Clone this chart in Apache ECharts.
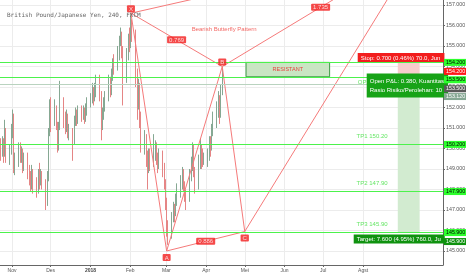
<!DOCTYPE html>
<html>
<head>
<meta charset="utf-8">
<script src="https://cdn.jsdelivr.net/npm/echarts@6/dist/echarts.min.js"></script>
<style>
html, body { margin: 0; padding: 0; background: #fff; }
#main { width: 466px; height: 275px; }
</style>
</head>
<body>
<div id="main"></div>
<script>
var barDates = [
  '2017-10-23','2017-10-24','2017-10-25','2017-10-26','2017-10-27',
  '2017-10-30','2017-10-31','2017-11-01','2017-11-02','2017-11-03',
  '2017-11-06','2017-11-07','2017-11-08','2017-11-09','2017-11-10',
  '2017-11-13','2017-11-14','2017-11-15','2017-11-16','2017-11-17',
  '2017-11-20','2017-11-21','2017-11-22','2017-11-23','2017-11-24',
  '2017-11-27','2017-11-28','2017-11-29','2017-11-30','2017-12-01',
  '2017-12-04','2017-12-05','2017-12-06','2017-12-07','2017-12-08',
  '2017-12-11','2017-12-12','2017-12-13','2017-12-14','2017-12-15',
  '2017-12-18','2017-12-19','2017-12-20','2017-12-21','2017-12-22',
  '2017-12-25','2017-12-26','2017-12-27','2017-12-28','2017-12-29',
  '2018-01-01','2018-01-02','2018-01-03','2018-01-04','2018-01-05',
  '2018-01-08','2018-01-09','2018-01-10','2018-01-11','2018-01-12',
  '2018-01-15','2018-01-16','2018-01-17','2018-01-18','2018-01-19',
  '2018-01-22','2018-01-23','2018-01-24','2018-01-25','2018-01-26',
  '2018-01-29','2018-01-30','2018-01-31','2018-02-01','2018-02-02',
  '2018-02-05','2018-02-06','2018-02-07','2018-02-08','2018-02-09',
  '2018-02-12','2018-02-13','2018-02-14','2018-02-15','2018-02-16',
  '2018-02-19','2018-02-20','2018-02-21','2018-02-22','2018-02-23',
  '2018-02-26','2018-02-27','2018-02-28','2018-03-01','2018-03-02',
  '2018-03-05','2018-03-06','2018-03-07','2018-03-08','2018-03-09',
  '2018-03-12','2018-03-13','2018-03-14','2018-03-15','2018-03-16',
  '2018-03-19','2018-03-20','2018-03-21','2018-03-22','2018-03-23',
  '2018-03-26','2018-03-27','2018-03-28','2018-03-29','2018-03-30',
  '2018-04-02','2018-04-03','2018-04-04','2018-04-05','2018-04-06',
  '2018-04-09','2018-04-10','2018-04-11','2018-04-12','2018-04-13'
];
var barOhlc = [
  [150.0,149.8,149.4,150.5],[149.8,150.3,149.6,150.6],[150.3,149.7,149.3,150.5],[149.7,151.0,149.6,151.4],[150.9,149.6,149.3,151.0],
  [149.6,149.9,149.2,150.2],[149.9,150.9,149.7,151.2],[150.9,151.5,150.5,151.9],[151.5,149.0,148.8,151.7],[149.0,149.3,148.7,149.8],
  [149.3,150.0,149.1,150.3],[150.0,149.6,149.3,150.3],[149.6,149.8,149.3,150.1],[149.8,149.1,148.8,150.0],[149.1,149.5,148.9,149.8],
  [149.5,148.8,148.5,149.8],[148.8,148.6,148.2,149.2],[148.6,148.2,147.9,148.9],[148.2,148.9,148.0,149.2],[148.9,148.3,147.8,149.0],
  [148.3,148.0,147.6,148.6],[148.0,148.8,147.8,149.0],[148.8,148.4,148.0,149.3],[148.4,148.7,148.2,149.0],[148.7,148.3,148.0,148.9],
  [148.3,147.6,147.0,148.5],[147.6,148.6,147.2,148.9],[148.6,150.8,148.4,151.0],[150.8,151.9,150.6,152.4],[151.9,151.5,150.8,152.5],
  [151.5,151.9,151.1,152.4],[151.9,151.1,150.9,152.1],[151.1,150.2,149.8,151.3],[150.2,151.0,149.9,151.3],[151.0,152.3,150.9,153.3],
  [152.3,151.4,151.0,152.5],[151.4,151.0,150.7,151.8],[151.0,151.4,150.8,151.9],[151.4,150.8,150.5,151.7],[150.8,150.9,150.4,151.2],
  [150.9,150.4,149.4,151.0],[150.4,151.3,150.2,151.6],[151.3,151.7,151.1,152.0],[151.7,151.4,151.1,151.9],[151.4,151.9,151.2,152.1],
  [151.9,151.6,151.3,152.1],[151.6,151.8,151.4,152.1],[151.8,151.5,151.2,152.0],[151.5,151.8,151.3,152.2],[151.8,152.2,151.6,152.5],
  [152.2,152.4,152.0,152.7],[152.4,152.9,152.2,153.2],[152.9,152.4,152.1,153.0],[152.4,152.8,152.3,153.2],[152.8,153.0,152.5,153.6],
  [153.0,152.6,152.3,153.6],[152.6,151.2,150.4,152.8],[151.2,151.6,150.9,152.0],[151.6,152.0,151.4,152.5],[152.0,152.5,151.8,152.8],
  [152.5,153.3,152.3,153.6],[153.3,152.8,152.5,153.5],[152.8,153.6,152.6,153.9],[153.6,154.1,153.3,154.4],[154.1,154.0,153.6,154.6],
  [154.0,154.7,153.8,155.0],[154.7,155.2,154.3,155.5],[155.2,155.5,155.0,155.9],[155.5,154.8,154.4,155.7],[154.8,153.4,152.1,155.0],
  [153.4,154.6,153.2,154.9],[154.6,155.3,154.3,155.6],[155.3,155.0,154.7,155.9],[155.0,156.1,154.9,156.6],[156.1,155.6,155.2,156.3],
  [155.6,153.4,153.0,155.8],[153.4,152.3,151.4,153.9],[152.3,152.9,151.9,153.4],[152.9,151.5,151.0,153.2],[151.5,150.2,149.8,151.8],
  [150.2,150.5,149.7,150.9],[150.5,149.5,149.1,150.7],[149.5,149.0,148.0,149.9],[149.0,149.6,148.8,150.0],[149.6,149.4,148.9,150.0],
  [149.4,149.7,149.1,150.7],[149.7,150.1,149.4,150.4],[150.1,149.5,149.2,150.3],[149.5,149.3,148.8,149.8],[149.3,149.6,149.0,150.0],
  [149.6,149.0,148.6,149.9],[149.0,148.4,148.0,149.3],[148.4,147.4,147.0,148.5],[147.4,146.0,145.7,147.6],[146.0,145.8,145.3,146.5],
  [145.8,146.6,145.6,146.9],[146.6,147.1,146.4,147.4],[147.1,146.8,146.4,147.3],[146.8,147.5,146.7,147.8],[147.5,147.9,147.2,148.3],
  [147.9,148.3,147.6,148.7],[148.3,148.8,148.0,149.1],[148.8,148.2,147.9,149.0],[148.2,147.7,147.4,148.4],[147.7,147.5,147.0,148.0],
  [147.5,148.6,147.4,149.0],[148.6,149.2,148.4,149.6],[149.2,149.8,148.9,150.3],[149.8,148.9,148.6,150.2],[148.9,148.2,147.8,149.1],
  [148.2,149.3,148.0,149.7],[149.3,149.9,149.0,150.5],[149.9,149.6,149.0,150.2],[149.6,149.5,149.1,150.0],[149.5,149.5,149.2,149.8],
  [149.5,149.6,149.1,150.0],[149.6,150.3,149.4,150.6],[150.3,150.0,149.6,150.6],[150.0,150.9,149.9,151.2],[150.9,151.3,150.6,151.8],
  [151.3,151.9,151.0,152.3],[151.9,152.4,151.5,152.8],[152.4,151.6,151.2,152.6],[151.6,152.8,151.5,153.1],[152.8,153.7,152.6,154.0]
];

// butterfly pattern points (D sits above the visible range)
var patternNames = ['X', 'A', 'B', 'C', 'D'];
var patternDates = ['2018-02-01 12:00', '2018-03-01 06:00', '2018-04-13 12:00', '2018-05-01 00:00', '2018-09-13 12:00'];
var patternPrices = [156.6, 145.0, 154.0, 145.95, 159.78];
var patternLegs = [['X','A'], ['A','B'], ['B','C'], ['C','D'], ['X','B'], ['A','C'], ['B','D'], ['X','D']];
var ratioLegs = [['X','B'], ['A','C'], ['B','D']];
var ratioTexts = ['0.769', '0.886', '1.735'];

// trade levels
var stopPrice = 154.2, entryPrice = 153.5, targetPrice = 145.9, lastPrice = 153.12;
var tpPrices = [150.2, 147.9, 145.9];
var tpTexts = ['TP1 150.20', 'TP2 147.90', 'TP3 145.90'];
var tpDate = '2018-08-08';
var positionDates = ['2018-08-28', '2018-09-14'];
var resistDates = ['2018-05-02', '2018-07-06'];
var patternTitleAt = ['2018-04-15', 155.8];

// axes
var monthDates = ['2017-11-01','2017-12-01','2018-01-01','2018-02-01','2018-03-01','2018-04-01','2018-05-01','2018-06-01','2018-07-01','2018-08-01'];
var monthLabels = ['Nov','Des','2018','Feb','Mar','Apr','Mei','Jun','Jul','Agst'];
var priceTicks = [145,146,147,148,149,150,151,152,153,154,155,156,157];
var viewStart = '2017-10-22 16:00', viewEnd = '2018-10-02 04:00';
var priceMin = 144.317, priceMax = 157.244;

function T(s) {
  var p = s.split(/[- :]/).map(Number);
  return new Date(p[0], p[1] - 1, p[2], p[3] || 0, p[4] || 0).getTime();
}
function pt(name) {
  var i = patternNames.indexOf(name);
  return [T(patternDates[i]), patternPrices[i]];
}

var monthTimes = monthDates.map(T);
var red = '#f21d1d';
var lineRed = '#f57a7a';
var green = '#4cf24c';
var tpGreen = '#3ee03e';

var series = [];

// zones (drawn first, underneath)
series.push({
  type: 'line', data: [], z: 1, silent: true,
  markArea: {
    silent: true,
    data: [
      [{ coord: [T(resistDates[0]), stopPrice], itemStyle: { color: '#c9e5c3', borderColor: '#3d9a46', borderWidth: 1 },
         label: { show: true, position: 'inside', formatter: 'RESISTANT', color: '#e8433f', fontSize: 5.5, fontFamily: 'Liberation Sans' } },
       { coord: [T(resistDates[1]), entryPrice] }],
      [{ coord: [T(positionDates[0]), stopPrice], itemStyle: { color: '#f9cdcd' } },
       { coord: [T(positionDates[1]), entryPrice] }],
      [{ coord: [T(positionDates[0]), entryPrice], itemStyle: { color: '#d2ebd0' } },
       { coord: [T(positionDates[1]), targetPrice] }]
    ]
  }
});

series.push({
  type: 'candlestick', z: 2,
  barWidth: 1,
  encode: { x: 0, y: [1, 2, 3, 4] },
  data: barDates.map(function (d, i) { return [T(d) + 43200000].concat(barOhlc[i]); }),
  itemStyle: { color: '#b4dcc0', color0: '#f4aaaa', borderColor: '#86a893', borderColor0: '#e58585', borderWidth: 1 },
  markLine: {
    silent: true, symbol: ['none', 'none'], label: { show: false },
    data: [
      { yAxis: lastPrice, lineStyle: { color: '#b9d3bf', width: 1, type: 'solid' } },
      { yAxis: stopPrice }, { yAxis: entryPrice },
      { yAxis: tpPrices[0] }, { yAxis: tpPrices[1] }, { yAxis: tpPrices[2] }
    ],
    lineStyle: { color: green, width: 1, type: 'solid' }
  }
});

patternLegs.forEach(function (leg) {
  series.push({
    type: 'line', z: 4, silent: true, symbol: 'none',
    data: [pt(leg[0]), pt(leg[1])],
    lineStyle: { color: lineRed, width: 1 }
  });
});

// point tags X A B C
series.push({
  type: 'scatter', z: 6, silent: true, symbolSize: 0,
  data: ['X', 'A', 'B', 'C'].map(function (n) {
    var below = (n === 'A' || n === 'C');
    return { name: n, value: pt(n), label: { position: below ? 'bottom' : 'top', distance: below ? 3 : 1 } };
  }),
  label: { show: true, formatter: '{b}', color: '#fff', backgroundColor: red, padding: [1, 2, 0, 2], borderRadius: 1,
           fontSize: 6, fontFamily: 'Liberation Sans' }
});

// ratio tags at leg midpoints
series.push({
  type: 'scatter', z: 6, silent: true, symbolSize: 0,
  data: ratioLegs.map(function (leg, i) {
    var a = pt(leg[0]), b = pt(leg[1]);
    return { name: ratioTexts[i], value: [(a[0] + b[0]) / 2, (a[1] + b[1]) / 2] };
  }),
  label: { show: true, position: 'inside', formatter: '{b}', color: '#fff', backgroundColor: red, padding: [1, 2, 0, 2],
           borderRadius: 1, fontSize: 6, fontFamily: 'Liberation Sans' }
});

// texts: pattern name, TP labels
series.push({
  type: 'scatter', z: 5, silent: true, symbolSize: 0,
  data: [{ name: 'Bearish Butterfly Pattern', value: [T(patternTitleAt[0]), patternTitleAt[1]],
           label: { color: '#f0443f', position: 'inside' } }]
    .concat(tpPrices.map(function (p, i) {
      return { name: tpTexts[i], value: [T(tpDate), p], label: { color: tpGreen, position: 'top', distance: 5 } };
    }))
    .concat([{ name: 'OP 153.50', value: [T(tpDate), entryPrice], label: { color: tpGreen, position: 'bottom', distance: 3 } }]),
  label: { show: true, formatter: '{b}', fontSize: 6, fontFamily: 'Liberation Sans' }
});

var option = {
  animation: false,
  backgroundColor: '#fff',
  title: {
    text: 'British Pound/Japanese Yen, 240, FXCM', left: 2, top: 7,
    textStyle: { fontSize: 6, fontWeight: 'normal', color: '#666', fontFamily: 'DejaVu Sans Mono' }
  },
  grid: { left: 0, right: 23, top: 0, bottom: 10, containLabel: false, outerBoundsMode: 'none' },
  xAxis: {
    type: 'value', min: T(viewStart), max: T(viewEnd),
    axisLine: { lineStyle: { color: '#666', width: 1 } },
    axisTick: { show: true, length: 2, customValues: monthTimes, lineStyle: { color: '#666' } },
    axisLabel: {
      customValues: monthTimes, margin: 3, fontSize: 5, color: '#555', fontFamily: 'Liberation Sans',
      formatter: function (v) {
        var i = monthTimes.indexOf(Number(v));
        var s = i >= 0 ? monthLabels[i] : '';
        return s === '2018' ? '{y|2018}' : s;
      },
      rich: { y: { fontSize: 5, fontWeight: 'bold', color: '#444', fontFamily: 'Liberation Sans' } }
    },
    splitLine: { show: true, lineStyle: { color: '#ececec', width: 1 } }
  },
  yAxis: {
    type: 'value', position: 'right', min: priceMin, max: priceMax,
    axisLine: { show: true, lineStyle: { color: '#666' } },
    axisTick: { show: true, length: 2, customValues: priceTicks, lineStyle: { color: '#666' } },
    axisLabel: {
      customValues: priceTicks, margin: 3, fontSize: 5.3, color: '#555', fontFamily: 'Liberation Sans',
      formatter: function (v) { return Number(v).toFixed(3); }
    },
    splitLine: { show: true, lineStyle: { color: '#ececec', width: 1 } }
  },
  series: series
};

var chart = echarts.init(document.getElementById('main'));
chart.setOption(option);

// price tags on the right scale and the position-tool boxes
function yPx(p) { return chart.convertToPixel({ gridIndex: 0 }, [T(viewStart), p])[1]; }
function xPx(t) { return chart.convertToPixel({ gridIndex: 0 }, [t, entryPrice])[0]; }
var axisX = xPx(T(viewEnd));
var posCenter = xPx((T(positionDates[0]) + T(positionDates[1])) / 2);
var tagFont = '5.3px "Liberation Sans"';
var boxFont = '6px "Liberation Sans"';

function tag(price, shift, bg, fg) {
  return {
    type: 'text', z: 60, x: axisX + 1, y: yPx(price) + shift,
    style: { text: price.toFixed(3), font: tagFont, fill: fg, backgroundColor: bg, padding: [1, 3, 1, 2],
             align: 'left', verticalAlign: 'middle' }
  };
}

chart.setOption({
  graphic: [
    { type: 'text', z: 50, x: posCenter - 51, y: yPx(stopPrice) - 0.5,
      style: { text: 'Stop: 0.700 (0.46%) 70.0, Jun', font: boxFont, fill: '#fff', backgroundColor: '#f21d1d',
               padding: [2, 4, 1, 3], align: 'left', verticalAlign: 'bottom' } },
    { type: 'text', z: 50, x: posCenter - 42, y: yPx(lastPrice) + 1,
      style: { text: 'Open P&L: 0.380, Kuantitas\nRasio Risiko/Perolehan: 10', font: boxFont, lineHeight: 9,
               fill: '#fff', backgroundColor: '#17a317', padding: [3, 4, 3, 3], align: 'left', verticalAlign: 'middle' } },
    { type: 'text', z: 50, x: posCenter - 55, y: yPx(targetPrice) + 2,
      style: { text: 'Target: 7.600 (4.95%) 760.0, Ju', font: boxFont, fill: '#fff', backgroundColor: '#0f920f',
               padding: [2, 4, 1, 3], align: 'left', verticalAlign: 'top' } },
    tag(stopPrice, 0, '#2dff2d', '#000'),
    tag(stopPrice, 9, '#ff1a1a', '#fff'),
    tag(entryPrice, 3, '#2dff2d', '#000'),
    tag(entryPrice, 12, '#5a5a5a', '#fff'),
    tag(lastPrice, 12, '#86a894', '#fff'),
    tag(tpPrices[0], 0, '#2dff2d', '#000'),
    tag(tpPrices[1], 0, '#2dff2d', '#000'),
    tag(tpPrices[2], 0, '#2dff2d', '#000'),
    tag(targetPrice, 9, '#0f920f', '#fff')
  ]
});
</script>
</body>
</html>
